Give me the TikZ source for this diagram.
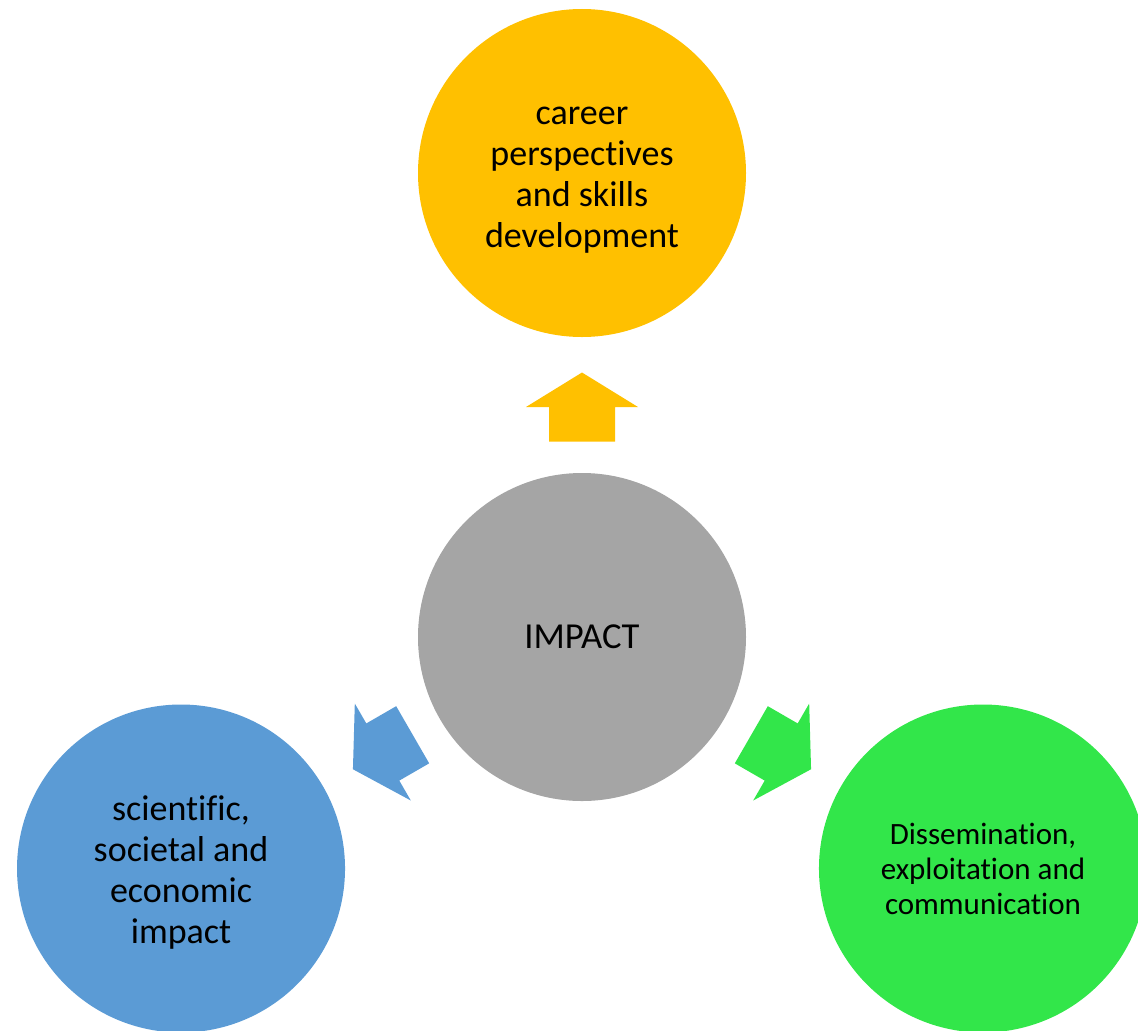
\documentclass[tikz,border=0pt]{standalone}
\usepackage{fontspec}
\setmainfont{Carlito}[Ligatures=NoCommon]
\usetikzlibrary{positioning}

\definecolor{impactgold}{HTML}{FFC000}
\definecolor{impactgray}{HTML}{A5A5A5}
\definecolor{impactblue}{HTML}{5B9BD5}
\definecolor{impactgreen}{HTML}{32E64A}

\tikzset{
  bubble/.style={circle, minimum size=164pt, inner sep=0pt, align=center,
    font=\fontsize{18}{20.5}\selectfont},
  blockarrow/.style={draw=none}
}

\begin{document}
\begin{tikzpicture}[x=0.5pt,y=0.5pt]
\useasboundingbox (-582,-393) rectangle (556,637);

\node[bubble, fill=impactgray, font=\fontsize{18.3}{20.5}\selectfont] (impact) at (0,0) {IMPACT};
\node[bubble, fill=impactgold, text height=77pt] (career) at (90:464) {career\\perspectives\\and skills\\development};
\node[bubble, fill=impactblue, text height=77.5pt] (science) at (210:463) {scientific,\\societal and\\economic\\impact};
\node[bubble, fill=impactgreen, font=\fontsize{15.5}{17.5}\selectfont] (dissem) at (330:463) {Dissemination,\\exploitation and\\communication};

% arrows from the centre outwards
\fill[blockarrow, impactgold, shift={(90:230)}, rotate=90]
  (-34.5,-33) -- (0,-33) -- (0,-56) -- (34.5,0) -- (0,56) -- (0,33) -- (-34.5,33) -- cycle;
\fill[blockarrow, impactblue, shift={(210:230)}, rotate=210]
  (-34.5,-33) -- (0,-33) -- (0,-56) -- (34.5,0) -- (0,56) -- (0,33) -- (-34.5,33) -- cycle;
\fill[blockarrow, impactgreen, shift={(330:230)}, rotate=330]
  (-34.5,-33) -- (0,-33) -- (0,-56) -- (34.5,0) -- (0,56) -- (0,33) -- (-34.5,33) -- cycle;
\end{tikzpicture}
\end{document}
